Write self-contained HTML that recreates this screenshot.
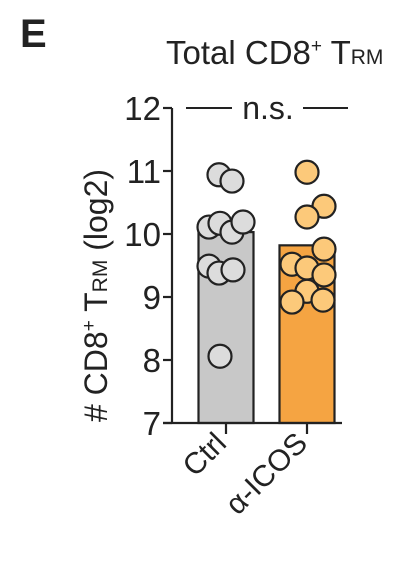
<!DOCTYPE html>
<html><head><meta charset="utf-8"><style>
body{margin:0;background:#fff;width:402px;height:562px;overflow:hidden}
svg{display:block}
text{font-family:"Liberation Sans",Arial,sans-serif;fill:#222}
</style></head><body>
<svg id="chart" width="402" height="562" viewBox="0 0 402 562">
<text x="20" y="47" font-size="40" font-weight="bold">E</text>
<text x="166" y="64" font-size="33">Total CD8<tspan font-size="19" dy="-12">+</tspan><tspan dy="12"> T</tspan><tspan font-size="21">RM</tspan></text>
<text transform="translate(107,422) rotate(-90)" font-size="32"># CD8<tspan font-size="19" dy="-12">+</tspan><tspan dy="12"> T</tspan><tspan font-size="21">RM</tspan><tspan> (log2)</tspan></text>
<g id="plot"></g>
</svg>
<script>
const categories=["Ctrl","α-ICOS"];
const barMeans=[10.03,9.82];
const ctrlValues=[10.94,10.84,10.11,10.17,10.03,10.19,9.49,9.38,9.43,8.06];
const icosValues=[10.98,10.44,10.27,9.76,9.52,9.46,9.35,9.09,8.92,8.95];
const yTicks=[7,8,9,10,11,12];
const ctrlJitter=[-7,6,-17,-6,6,17,-17,-7,7,-6];
const icosJitter=[0,17,0,17,-15,0,17,0,-15,16];
const NS="http://www.w3.org/2000/svg";
const g=document.getElementById('plot');
const y0=423,pxPer=63,yMin=7;
const y=v=>y0-(v-yMin)*pxPer;
const xc=[226,307],barW=55;
const colors=[["#c8c8c8","#dcdcdc"],["#f5a442","#fcc97a"]];
function mk(t,a){const e=document.createElementNS(NS,t);for(const k in a)e.setAttribute(k,a[k]);g.appendChild(e);return e;}
barMeans.forEach((m,i)=>{
 const r=mk('rect',{x:xc[i]-barW/2,y:y(m),width:barW,height:y0-y(m),fill:colors[i][0],stroke:'#222','stroke-width':2.2});
 
 
});
[ctrlValues,icosValues].forEach((vals,i)=>{
 const jit=i?icosJitter:ctrlJitter;
 vals.forEach((v,j)=>{
  const c=mk('circle',{cx:xc[i]+jit[j],cy:y(v),r:11.5,fill:colors[i][1],stroke:'#222','stroke-width':2.2});
  
  
 });
});
const ax=mk('path',{d:`M172 ${y(12)} V${y0} M163 ${y0} H342`,stroke:'#222','stroke-width':2.2,fill:'none'});


yTicks.forEach(t=>{
 const l=mk('line',{x1:163,x2:172,y1:y(t),y2:y(t),stroke:'#222','stroke-width':2.2});
 
 
 const tx=mk('text',{x:161,y:y(t)+12,'text-anchor':'end','font-size':33});
 tx.textContent=t;
 
 
});
categories.forEach((c,i)=>{
 const l=mk('line',{x1:xc[i],x2:xc[i],y1:y0,y2:y0+11,stroke:'#222','stroke-width':2.2});
 
 
 const tx=mk('text',{transform:`translate(${xc[i]+2},${y0+22}) rotate(-45)`,'text-anchor':'end','font-size':30});
 tx.textContent=c;
 
 
});
const sl=mk('path',{d:`M186 ${y(12)} H232 M303 ${y(12)} H348`,stroke:'#222','stroke-width':2,fill:'none'});


const ns=mk('text',{x:268,y:y(12)+11,'text-anchor':'middle','font-size':32});
ns.textContent='n.s.';


</script>
</body></html>
